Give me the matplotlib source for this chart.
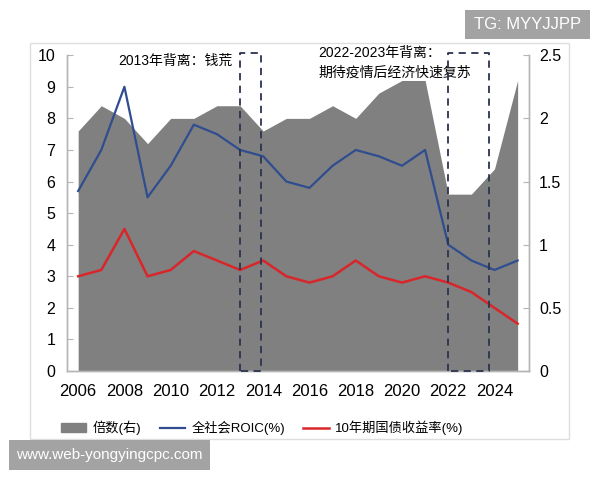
import matplotlib
matplotlib.use("Agg")
import matplotlib.pyplot as plt
from matplotlib.patches import Patch, Rectangle
from matplotlib.lines import Line2D

plt.rcParams["font.family"] = ["Liberation Sans", "Noto Sans CJK SC", "DejaVu Sans"]

years = list(range(2006, 2026))
multiple = [1.9, 2.1, 2.0, 1.8, 2.0, 2.0, 2.1, 2.1, 1.9, 2.0,
            2.0, 2.1, 2.0, 2.2, 2.3, 2.3, 1.4, 1.4, 1.6, 2.3]
roic = [5.7, 7.0, 9.0, 5.5, 6.5, 7.8, 7.5, 7.0, 6.8, 6.0,
        5.8, 6.5, 7.0, 6.8, 6.5, 7.0, 4.0, 3.5, 3.2, 3.5]
bond = [3.0, 3.2, 4.5, 3.0, 3.2, 3.8, 3.5, 3.2, 3.5, 3.0,
        2.8, 3.0, 3.5, 3.0, 2.8, 3.0, 2.8, 2.5, 2.0, 1.5]
boxes = [(2013, 2013.9), (2022, 2023.75)]
xticks = list(range(2006, 2025, 2))

gray = "#808080"
blue = "#2f4d8f"
red = "#d8262a"
navy = "#2b3350"
spine_c = "#b5b5b5"

fig = plt.figure(figsize=(6, 4.8), dpi=100)
ax = fig.add_axes([0.111, 0.227, 0.771, 0.658])
ax2 = ax.twinx()
ax.set_zorder(ax2.get_zorder() + 1)
ax.patch.set_visible(False)

# area on right axis
ax2.fill_between(years, 0, multiple, color=gray, linewidth=0)
ax2.set_ylim(0, 2.5)
ax2.set_yticks([0, 0.5, 1, 1.5, 2, 2.5])
ax2.set_yticklabels(["0", "0.5", "1", "1.5", "2", "2.5"])

ax.plot(years, roic, color=blue, lw=1.6)
ax.plot(years, bond, color=red, lw=1.8)

for x0, x1 in boxes:
    ax.plot([x0, x0, x1, x1, x0], [0, 10.07, 10.07, 0, 0], color=navy,
            lw=1.3, ls=(0, (4, 3)), clip_on=False, zorder=5)

ax.set_xlim(2005.5, 2025.5)
ax.set_ylim(0, 10)
ax.set_yticks(range(0, 11))
ax.set_xticks(xticks)

for a in (ax, ax2):
    a.spines["top"].set_visible(False)
    for s in ("left", "right", "bottom"):
        a.spines[s].set_color(spine_c)
        a.spines[s].set_linewidth(1.0)
ax.tick_params(axis="y", direction="in", length=4, color=spine_c, pad=8, labelsize=11.5)
ax.tick_params(axis="x", length=0, pad=9, labelsize=12)
ax2.tick_params(axis="y", direction="in", length=4, color=spine_c, pad=7, labelsize=11.5)

ax.text(2007.75, 9.81, "2013年背离：钱荒", fontsize=10, ha="left", va="center")
ax.text(2016.4, 10.06, "2022-2023年背离：", fontsize=10, ha="left", va="center")
ax.text(2016.4, 9.43, "期待疫情后经济快速复苏", fontsize=10, ha="left", va="center")

handles = [Patch(color=gray), Line2D([], [], color=blue, lw=1.6),
           Line2D([], [], color=red, lw=1.8)]
labels = ["倍数(右)", "全社会ROIC(%)", "10年期国债收益率(%)"]
fig.legend(handles, labels, loc="center", bbox_to_anchor=(0.437, 0.108), ncol=3,
           frameon=False, fontsize=9.5, handlelength=1.9, handletextpad=0.5,
           columnspacing=1.4)

# outer frame
fig.patches.append(Rectangle((0.05, 0.085), 0.898, 0.825, transform=fig.transFigure,
                             fill=False, edgecolor="#dedede", lw=1.0))

# watermarks
fig.patches.append(Rectangle((465 / 600, 1 - 39 / 480), 125 / 600, 29 / 480,
                             transform=fig.transFigure, color="#a3a3a3", lw=0))
fig.text(527.5 / 600, 1 - 24.5 / 480, "TG: MYYJJPP", color="white", fontsize=12,
         ha="center", va="center")
fig.patches.append(Rectangle((9 / 600, 1 - 470 / 480), 201 / 600, 30 / 480,
                             transform=fig.transFigure, color="#a3a3a3", lw=0))
fig.text(109.5 / 600, 1 - 455 / 480, "www.web-yongyingcpc.com", color="white",
         fontsize=11, ha="center", va="center")

fig.savefig("out.png", dpi=100)
